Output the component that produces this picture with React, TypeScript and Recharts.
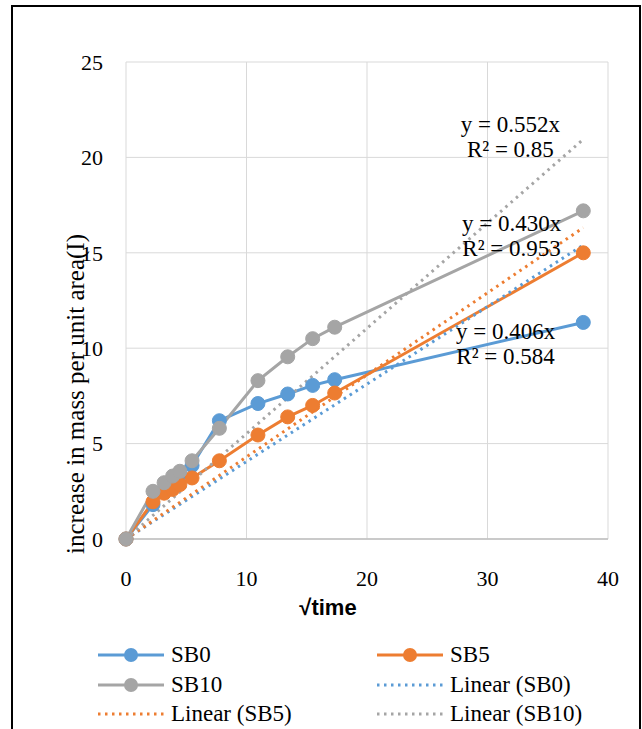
import React from "react";
import {
  LineChart,
  Line,
  XAxis,
  YAxis,
  CartesianGrid,
  ReferenceDot,
} from "recharts";

// √time values (x) shared by all three series
const sqrtTime = [0, 2.24, 3.16, 3.87, 4.47, 5.48, 7.75, 10.95, 13.42, 15.49, 17.32, 37.95];

const sb0 = [0, 1.8, 2.6, 3.1, 3.4, 3.85, 6.2, 7.1, 7.6, 8.05, 8.35, 11.35];
const sb5 = [0, 1.95, 2.4, 2.6, 2.85, 3.2, 4.1, 5.45, 6.4, 7.0, 7.65, 15.0];
const sb10 = [0, 2.5, 2.95, 3.3, 3.55, 4.1, 5.8, 8.3, 9.55, 10.5, 11.1, 17.2];

const seriesNames = ["SB0", "SB5", "SB10"];
const trendSlopes = [0.406, 0.43, 0.552];
const trendSlopeText = ["0.406", "0.430", "0.552"];
const trendR2Text = ["0.584", "0.953", "0.85"];

const xTicks = [0, 10, 20, 30, 40];
const yTicks = [0, 5, 10, 15, 20, 25];

const colors = ["#5B9BD5", "#ED7D31", "#A5A5A5"];
const SERIF = "Liberation Serif, DejaVu Serif, Noto Serif, Times New Roman, Times, serif";
const DOTS = "2.5 4.5";

// where each trendline equation sits (data coordinates)
const labelAnchors = [
  { x: 31.5, y: 10.2 },
  { x: 32.0, y: 15.9 },
  { x: 31.9, y: 21.05 },
];

const toPoints = (vals: number[]) => sqrtTime.map((x, i) => ({ x, y: vals[i] }));
const seriesData = [toPoints(sb0), toPoints(sb5), toPoints(sb10)];
const lastX = sqrtTime[sqrtTime.length - 1];
const trendData = trendSlopes.map((m) => [
  { x: 0, y: 0 },
  { x: lastX, y: m * lastX },
]);

const legendItems = [
  ...seriesNames.map((n, i) => ({ name: n, color: colors[i], trend: false })),
  ...seriesNames.map((n, i) => ({ name: `Linear (${n})`, color: colors[i], trend: true })),
];

function EquationLabel(props: any) {
  const { viewBox, i } = props;
  const cx = viewBox.x + viewBox.width / 2;
  const cy = viewBox.y + viewBox.height / 2;
  return (
    <text fontFamily={SERIF} fontSize={23} fill="#000" textAnchor="middle">
      <tspan x={cx} y={cy - 5}>{`y = ${trendSlopeText[i]}x`}</tspan>
      <tspan x={cx} y={cy + 20}>{`R² = ${trendR2Text[i]}`}</tspan>
    </text>
  );
}

function ChartLegend() {
  const cols = [97, 376];
  const rowY = [655, 685, 714];
  return (
    <>
      {legendItems.map((it, idx) => {
        const left = cols[idx % 2];
        const top = rowY[Math.floor(idx / 2)];
        return (
          <div
            key={it.name}
            style={{
              position: "absolute",
              left,
              top: top - 14,
              height: 28,
              display: "flex",
              alignItems: "center",
              fontFamily: SERIF,
              fontSize: 23,
              color: "#000",
              whiteSpace: "nowrap",
            }}
          >
            <svg width={68} height={28} style={{ marginRight: 6 }}>
              <line
                x1={1}
                y1={14}
                x2={67}
                y2={14}
                stroke={it.color}
                strokeWidth={3}
                strokeDasharray={it.trend ? DOTS : undefined}
              />
              {!it.trend && <circle cx={34} cy={14} r={7} fill={it.color} />}
            </svg>
            {it.name}
          </div>
        );
      })}
    </>
  );
}

export default function App() {
  return (
    <div
      style={{
        position: "absolute",
        left: 0,
        top: 0,
        width: 642,
        height: 729,
        overflow: "hidden",
        background: "#fff",
      }}
    >
      <div
        style={{
          position: "absolute",
          left: 11,
          top: 5,
          width: 630,
          height: 780,
          border: "2px solid #000",
          boxSizing: "border-box",
        }}
      />
      <div style={{ position: "absolute", left: 0, top: 0 }}>
        <LineChart
          width={642}
          height={729}
          margin={{ top: 62, right: 34, bottom: 120, left: 0 }}
        >
          <CartesianGrid stroke="#d9d9d9" strokeWidth={1} />
          <XAxis
            dataKey="x"
            type="number"
            domain={[0, 40]}
            ticks={xTicks}
            height={70}
            tickLine={false}
            tickSize={0}
            tickMargin={31}
            axisLine={{ stroke: "#bfbfbf", strokeWidth: 1.5 }}
            tick={{ fontFamily: SERIF, fontSize: 22, fill: "#000" }}
            label={{
              content: (p: any) => (
                <text
                  x={p.viewBox.x + 202}
                  y={p.viewBox.y + 76}
                  textAnchor="middle"
                  fontFamily="Liberation Sans, Arial, sans-serif"
                  fontWeight="bold"
                  fontSize={22}
                  fill="#000"
                >
                  √time
                </text>
              ),
            }}
          />
          <YAxis
            type="number"
            domain={[0, 25]}
            ticks={yTicks}
            width={126}
            tickLine={false}
            tickSize={0}
            tickMargin={23}
            axisLine={false}
            tick={{ fontFamily: SERIF, fontSize: 22, fill: "#000" }}
            label={{
              content: () => (
                <text
                  x={75}
                  y={394}
                  transform="rotate(-90, 75, 394)"
                  textAnchor="middle"
                  dominantBaseline="central"
                  fontFamily={SERIF}
                  fontSize={25}
                  fill="#000"
                >
                  increase in mass per unit area(I)
                </text>
              ),
            }}
          />
          {seriesData.map((d, i) => (
            <Line
              key={seriesNames[i]}
              data={d}
              dataKey="y"
              name={seriesNames[i]}
              type="linear"
              stroke={colors[i]}
              strokeWidth={3}
              dot={{ r: 7, fill: colors[i], stroke: colors[i], strokeWidth: 1 }}
              isAnimationActive={false}
            />
          ))}
          {trendData.map((d, i) => (
            <Line
              key={`trend-${seriesNames[i]}`}
              data={d}
              dataKey="y"
              name={`Linear (${seriesNames[i]})`}
              type="linear"
              stroke={colors[i]}
              strokeWidth={3}
              strokeDasharray={DOTS}
              dot={false}
              isAnimationActive={false}
            />
          ))}
          {labelAnchors.map((a, i) => (
            <ReferenceDot
              key={`eq-${i}`}
              x={a.x}
              y={a.y}
              r={0}
              fill="none"
              stroke="none"
              label={{ content: (p: any) => <EquationLabel {...p} i={i} /> }}
            />
          ))}
        </LineChart>
      </div>
      <ChartLegend />
    </div>
  );
}
